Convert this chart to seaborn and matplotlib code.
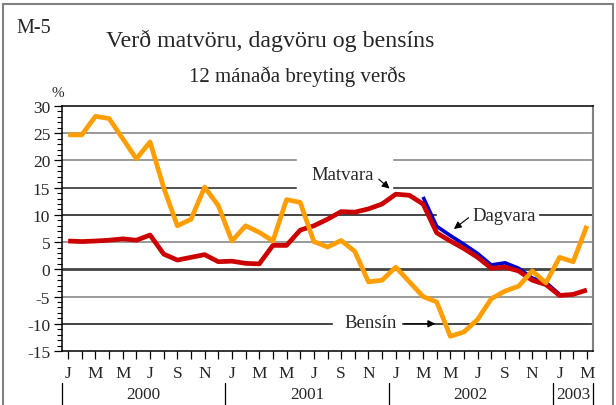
import numpy as np
import pandas as pd
import matplotlib
matplotlib.use("Agg")
import matplotlib.pyplot as plt
from matplotlib.patches import Rectangle
import matplotlib.transforms as mtransforms
import seaborn as sns

# 12-month price change, Jan 2000 - Mar 2003 (%)
bensin = [24.7, 24.7, 28.1, 27.7, 24.0, 20.3, 23.4, 15.0, 8.0, 9.2, 15.1, 11.7,
          5.2, 8.0, 6.8, 5.2, 12.8, 12.3, 5.1, 4.1, 5.3, 3.3, -2.3, -2.0,
          0.4, -2.3, -5.0, -6.0, -12.3, -11.5, -9.2, -5.4, -4.0, -3.1, -0.3, -2.5,
          2.2, 1.4, 8.0]
matvara = [5.2, 5.1, 5.2, 5.35, 5.6, 5.35, 6.3, 2.8, 1.7, 2.2, 2.7, 1.4,
           1.5, 1.1, 1.0, 4.4, 4.4, 7.2, 8.0, 9.2, 10.6, 10.5, 11.1, 12.0,
           13.8, 13.6, 12.0, 6.7, 5.2, 3.8, 2.2, 0.2, 0.4, -0.3, -2.0, -2.8,
           -4.8, -4.6, -3.8]
# dagvara only from Mar 2002
dagvara = [np.nan] * 26 + [13.3, 7.9, 6.2, 4.6, 2.9, 0.8, 1.2, 0.2, -1.6, -2.4, -4.6,
                           np.nan, np.nan]

month_names = ['J', 'F', 'M', 'A', 'M', 'J', 'J', 'A', 'S', 'O', 'N', 'D']
years = ['2000', '2001', '2002', '2003']
y_ticks = [30, 25, 20, 15, 10, 5, 0, -5, -10, -15]

df = pd.DataFrame({'m': np.arange(len(bensin)),
                   'Bensín': bensin, 'Matvara': matvara, 'Dagvara': dagvara})

sns.set_style("white")
plt.rcParams['font.family'] = ['Liberation Serif', 'DejaVu Serif']

fig = plt.figure(figsize=(6.16, 4.06), dpi=100)
ax = fig.add_axes([62 / 616, 1 - 352 / 406, (593 - 62) / 616, 245 / 406])

# gridlines (colours as they come out in the reference)
grid_cols = {25: '#7f7f7f', 20: '#7f7f7f', 15: '#222222', 10: '#111111',
             5: '#7f7f7f', 0: '#444444', -5: '#7f7f7f', -10: '#111111'}
for v, c in grid_cols.items():
    ax.axhline(v, color=c, lw=2.0 if v == 0 else 1.1, zorder=1)

# white boxes behind the labels
ax.add_patch(Rectangle((16.8, 14.5), 6.95, 6.0, color='white', zorder=1.5))
ax.add_patch(Rectangle((27.0, 9.3), 7.4, 1.4, color='white', zorder=1.5))
ax.add_patch(Rectangle((19.4, -10.6), 5.0, 1.2, color='white', zorder=1.5))

sns.lineplot(data=df, x='m', y='Dagvara', color='#0000cc', lw=2.6, ax=ax, zorder=3)
sns.lineplot(data=df, x='m', y='Matvara', color='#cc0000', lw=3.4, ax=ax, zorder=4)
sns.lineplot(data=df, x='m', y='Bensín', color='#ff9e00', lw=3.4, ax=ax, zorder=5)
for ln in ax.get_lines():
    ln.set_solid_capstyle('butt')
    ln.set_solid_joinstyle('round')

ax.set_xlim(-0.45, 38.45)
ax.set_ylim(-15, 30)
ax.set_xlabel('')
ax.set_ylabel('')

ax.set_yticks(y_ticks)
ax.set_yticklabels([str(t) for t in y_ticks])
ax.set_yticks(np.arange(-15, 31, 1), minor=True)
ax.set_xticks(np.arange(len(bensin)))
ax.set_xticklabels([month_names[i % 12] if i % 2 == 0 else '' for i in range(len(bensin))])
ax.tick_params(axis='both', which='major', direction='out', length=5.5, width=0.9,
               color='black', labelsize=12.5, left=True, bottom=True, pad=3)
ax.tick_params(axis='x', pad=4.5)
ax.tick_params(axis='y', which='minor', direction='out', length=3.5, width=0.8,
               color='black', left=True)

for s in ['top', 'left', 'bottom']:
    ax.spines[s].set_color('black')
    ax.spines[s].set_linewidth(1.1)
ax.spines['right'].set_color('#808080')
ax.spines['right'].set_linewidth(1.5)

# year labels with separators
trans = mtransforms.blended_transform_factory(ax.transData, ax.transAxes)
seps = [-0.45, 11.5, 23.5, 35.5, 38.45]
for s in seps:
    ax.plot([s, s], [-0.13, -0.25], color='black', lw=0.9, transform=trans, clip_on=False)
for k, yr in enumerate(years):
    ax.text((seps[k] + seps[k + 1]) / 2, -0.175, yr, transform=trans, ha='center',
            va='center', fontsize=12.3)

# labels and arrows
ax.text(17.8, 16.6, 'Matvara', fontsize=13.5, ha='left', va='baseline', zorder=6)
ax.annotate('', xy=(23.7, 14.5), xytext=(22.6, 16.9),
            arrowprops=dict(arrowstyle='-|>', color='black', lw=0.8, mutation_scale=11),
            zorder=6)
ax.text(29.65, 9.0, 'Dagvara', fontsize=13.5, ha='left', va='baseline', zorder=6)
ax.annotate('', xy=(28.1, 7.1), xytext=(29.5, 9.8),
            arrowprops=dict(arrowstyle='-|>', color='black', lw=0.8, mutation_scale=11),
            zorder=6)
ax.text(20.25, -10.5, 'Bensín', fontsize=13.5, ha='left', va='baseline', zorder=6)
ax.annotate('', xy=(27.1, -10.0), xytext=(24.4, -10.0),
            arrowprops=dict(arrowstyle='-|>', color='black', lw=0.8, mutation_scale=11),
            zorder=6)

# titles
fig.text(16 / 616, 1 - 33 / 406, 'M-5', fontsize=14.5, ha='left', va='baseline')
fig.text(270 / 616, 1 - 47 / 406, 'Verð matvöru, dagvöru og bensíns', fontsize=17.2,
         ha='center', va='baseline')
fig.text(297 / 616, 1 - 82 / 406, '12 mánaða breyting verðs', fontsize=15,
         ha='center', va='baseline')
fig.text(58 / 616, 1 - 97 / 406, '%', fontsize=11, ha='center', va='baseline')

# outer frame
fig.patches.append(Rectangle((3 / 616, -0.05), 610 / 616, 1.05 - 5 / 406,
                             transform=fig.transFigure, fill=False,
                             edgecolor='#808080', lw=1.5))

fig.savefig('out.png', dpi=100)
